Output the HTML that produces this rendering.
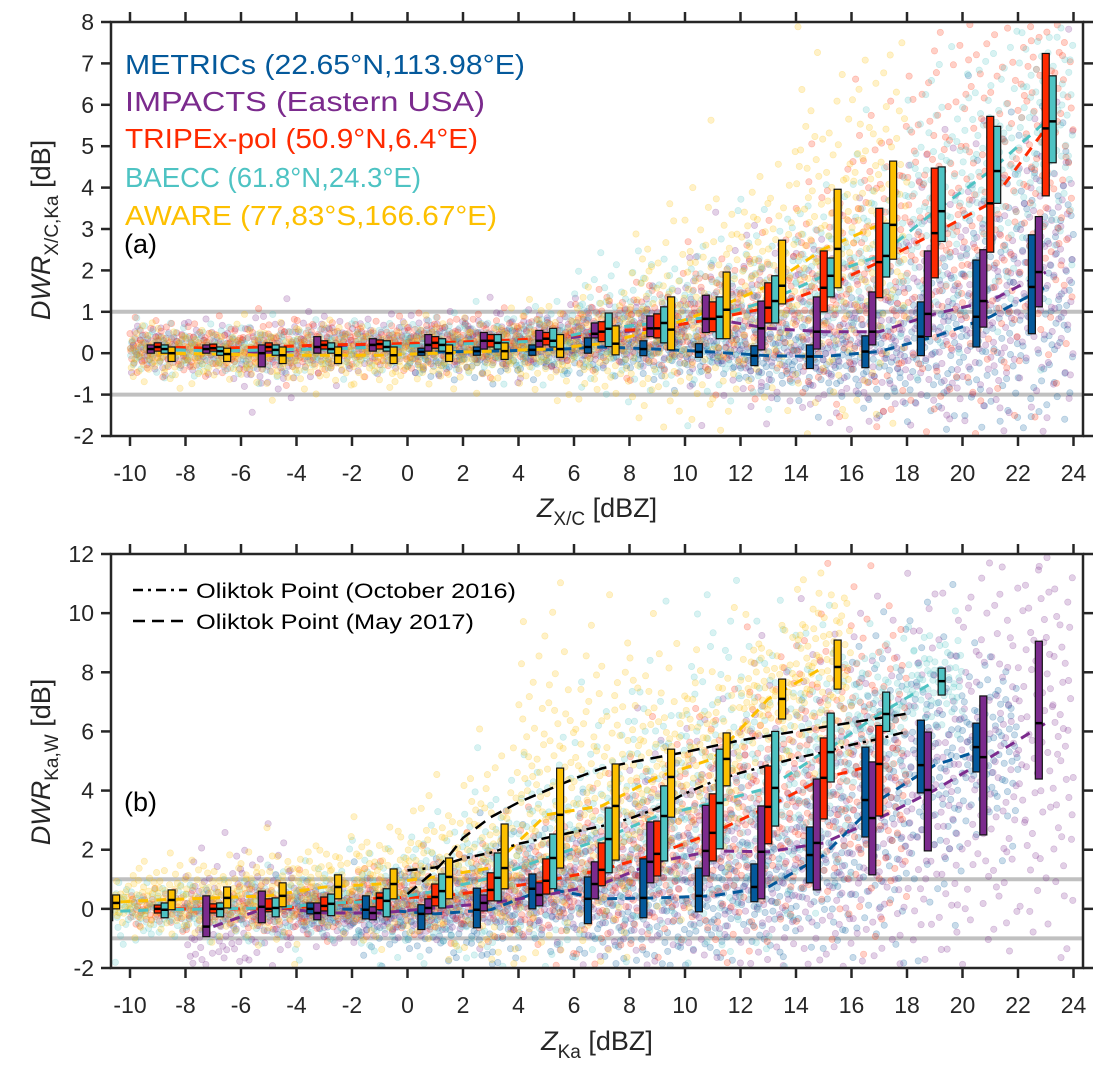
<!DOCTYPE html>
<html><head><meta charset="utf-8"><style>
html,body{margin:0;background:#fff;width:1108px;height:1077px;overflow:hidden}
svg{display:block;font-family:"Liberation Sans",Arial,sans-serif}
</style></head><body>
<div style="position:relative;width:1108px;height:1077px;overflow:hidden">
<svg id="c" width="1108" height="1077" viewBox="0 0 1108 1077" style="position:absolute;left:0;top:0">
<defs>
<clipPath id="clipA"><rect x="111" y="22" width="972" height="414"/></clipPath>
<clipPath id="clipB"><rect x="111" y="554" width="972" height="414"/></clipPath>
</defs>
<g id="gA" clip-path="url(#clipA)"></g>
<g id="gB" clip-path="url(#clipB)"></g>
<g id="axes"></g>
<g font-size="28">
<text x="125" y="74" fill="#04599b" textLength="400" lengthAdjust="spacingAndGlyphs">METRICs (22.65°N,113.98°E)</text>
<text x="125" y="111" fill="#7b2b8d" textLength="360" lengthAdjust="spacingAndGlyphs">IMPACTS (Eastern USA)</text>
<text x="125" y="148" fill="#ff2a00" textLength="353" lengthAdjust="spacingAndGlyphs">TRIPEx-pol (50.9°N,6.4°E)</text>
<text x="125" y="187" fill="#4ec3c3" textLength="296" lengthAdjust="spacingAndGlyphs">BAECC (61.8°N,24.3°E)</text>
<text x="125" y="225" fill="#fdc000" textLength="372" lengthAdjust="spacingAndGlyphs">AWARE (77,83°S,166.67°E)</text>
</g>
<text x="124" y="253" font-size="27" fill="#000">(a)</text>
<text x="124" y="811" font-size="27" fill="#000">(b)</text>
<g>
<line x1="133" x2="187" y1="590" y2="590" stroke="#000" stroke-width="2.5" stroke-dasharray="10,5,3,5"/>
<text x="196" y="598" font-size="21" fill="#000" textLength="320" lengthAdjust="spacingAndGlyphs">Oliktok Point (October 2016)</text>
<line x1="133" x2="187" y1="621" y2="621" stroke="#000" stroke-width="2.5" stroke-dasharray="12,7"/>
<text x="196" y="629" font-size="21" fill="#000" textLength="278" lengthAdjust="spacingAndGlyphs">Oliktok Point (May 2017)</text>
</g>
<text transform="translate(50,230) rotate(-90)" text-anchor="middle" font-size="27" fill="#262626"><tspan font-style="italic">DWR</tspan><tspan font-size="19" dy="8">X/C,Ka</tspan><tspan dy="-8"> [dB]</tspan></text>
<text transform="translate(50,762) rotate(-90)" text-anchor="middle" font-size="27" fill="#262626"><tspan font-style="italic">DWR</tspan><tspan font-size="19" dy="8">Ka,W</tspan><tspan dy="-8"> [dB]</tspan></text>
<text x="597" y="517" text-anchor="middle" font-size="27" fill="#262626"><tspan font-style="italic">Z</tspan><tspan font-size="19" dy="8">X/C</tspan><tspan dy="-8"> [dBZ]</tspan></text>
<text x="597" y="1050" text-anchor="middle" font-size="27" fill="#262626"><tspan font-style="italic">Z</tspan><tspan font-size="19" dy="8">Ka</tspan><tspan dy="-8"> [dBZ]</tspan></text>
</svg>
</div>
<script>
// ---- data ----
const binsA = [-9,-7,-5,-3,-1,1,3,5,7,9,11,13,15,17,19,21,23];
const binsB = [-11,-9,-7,-5,-3,-1,1,3,5,7,9,11,13,15,17,19,21,23];
const names = ["METRICs","IMPACTS","TRIPEx-pol","BAECC","AWARE"];
const colors = ["#04599b","#7b2b8d","#ff2a00","#4ec3c3","#fdc000"];
const offsets = [-0.5,-0.25,0,0.25,0.5];
const N=null;
const metricsA=[N,N,N,N,N,[-0.05,0.03,0.12],[-0.05,0.05,0.15],[-0.05,0.08,0.2],[0,0.15,0.37],[-0.06,0.1,0.3],[-0.1,0.03,0.23],[-0.3,-0.06,0.18],[-0.37,-0.08,0.2],[-0.35,0.04,0.42],[-0.06,0.4,1.24],[0.15,0.88,2.25],[0.47,1.6,2.86]];
const impactsA=[[0,0.1,0.2],[0,0.1,0.2],[-0.33,0,0.2],[0,0.15,0.4],[0.05,0.2,0.35],[0.05,0.2,0.45],[0.1,0.3,0.5],[0.15,0.3,0.55],[0.37,0.47,0.73],[0.4,0.6,0.9],[0.5,0.83,1.4],[0.08,0.6,1.26],[0.1,0.52,1.36],[0.2,0.52,1.48],[0.4,0.95,2.47],[0.63,1.26,2.5],[1.12,1.96,3.3]];
const tripexA=[[0.05,0.15,0.25],[0.05,0.12,0.22],[0.05,0.15,0.25],[0.1,0.2,0.3],[0.1,0.22,0.32],[0.12,0.25,0.4],[0.15,0.3,0.45],[0.2,0.35,0.5],[0.28,0.52,0.76],[0.37,0.6,0.95],[0.52,0.83,1.24],[0.73,1.1,1.7],[1.0,1.58,2.47],[1.34,2.2,3.5],[1.82,2.9,4.47],[2.44,3.62,5.72],[3.8,5.43,7.24]];
const baeccA=[[0,0.1,0.2],[-0.05,0.05,0.15],[-0.05,0.08,0.2],[0,0.1,0.25],[0.05,0.15,0.3],[0.05,0.2,0.35],[0.1,0.25,0.45],[0.15,0.3,0.6],[0.16,0.59,0.97],[0.25,0.73,1.12],[0.35,0.88,1.36],[0.73,1.26,1.87],[1.36,1.87,2.3],[1.84,2.35,3.14],[2.7,3.43,4.5],[3.62,4.4,5.48],[4.6,5.6,6.7]];
const awareA=[[-0.2,0,0.15],[-0.2,-0.02,0.12],[-0.25,-0.05,0.15],[-0.25,-0.05,0.15],[-0.25,-0.05,0.15],[-0.2,0,0.2],[-0.15,0.05,0.25],[-0.1,0.1,0.45],[-0.04,0.23,0.66],[0.08,0.57,1.36],[0.35,1.05,1.96],[1.19,1.63,2.73],[1.58,2.52,3.96],[2.27,3.1,4.64],N,N,N];
const metricsB=[N,N,N,N,[-0.17,0,0.2],[-0.34,-0.03,0.44],[-0.7,-0.17,0.14],[-0.64,-0.03,0.7],[0,0.68,1.18],[-0.5,0.34,1.08],[-0.3,0.37,1.69],[-0.1,0.44,1.38],[0.24,0.74,1.52],[0.88,1.82,2.77],[2.43,3.68,5.47],[3.92,4.86,6.38],[4.63,5.47,6.28],N];
const impactsB=[N,N,[-0.94,-0.6,0.44],[-0.47,0.07,0.6],[-0.37,-0.14,0.2],[-0.37,-0.14,0.07],[-0.17,0.03,0.34],[-0.07,0.2,0.47],[0.1,0.47,0.88],[0.34,0.84,1.59],[0.88,1.59,2.94],[1.11,1.96,3.5],[0.34,1.93,3.48],[0.64,2.23,4.39],[1.15,3.07,4.97],[1.96,4.02,5.98],[2.5,5.13,7.2],[4.39,6.28,9.05]];
const tripexB=[N,[-0.14,0,0.13],[-0.14,0,0.17],[-0.1,0,0.34],[-0.07,0.1,0.4],[-0.03,0.37,0.54],[0.1,0.4,0.84],[0.27,0.64,1.22],[0.5,0.95,1.69],[0.78,1.32,2.23],[1.11,1.86,2.97],[1.62,2.57,3.89],[2.2,3.45,4.83],[3.04,4.43,5.78],[3.14,4.9,6.2],N,N,N];
const baeccB=[[-0.4,-0.1,0.2],[-0.3,-0.03,0.2],[-0.27,0,0.2],[-0.27,0.03,0.37],[-0.23,0.17,0.5],[-0.27,0.27,0.68],[0.03,0.6,1.18],[0.27,1.05,1.89],[0.68,1.72,2.53],[1.22,2.36,3.41],[1.62,3.14,4.16],[2.03,3.58,5.4],[2.8,4.09,6.0],[4.29,5.3,6.62],[6.0,6.59,7.33],[7.23,7.7,8.14],N,N];
const awareB=[[0,0.2,0.47],[-0.03,0.3,0.64],[0.03,0.37,0.74],[0.07,0.44,0.88],[0.34,0.74,1.15],[0.34,0.84,1.35],[0.34,1.08,1.72],[0.68,1.38,2.87],[1.38,3.18,4.76],[1.65,3.48,4.9],[3.1,4.46,5.4],[4.16,5.07,5.95],[6.42,7.1,7.77],[7.43,8.18,9.09],N,N,N,N];
const octX=[0,1,2,3,4,5,6,7,8,9,10,11,12,13,14,15,16,17,18];
const octY=[1.3,1.4,1.7,1.9,2.2,2.4,2.6,2.8,3.05,3.4,3.9,4.3,4.6,4.85,5.1,5.3,5.55,5.75,6.0];
const mayX=[0,0.5,1,1.5,2,3,4,5,6,7,8,10,12,14,16,18];
const mayY=[0.5,0.9,1.3,1.8,2.4,3.1,3.6,4.0,4.4,4.75,4.95,5.3,5.7,6.0,6.3,6.6];
const xTicks=[-10,-8,-6,-4,-2,0,2,4,6,8,10,12,14,16,18,20,22,24];
const yTicksA=[-2,-1,0,1,2,3,4,5,6,7,8];
const yTicksB=[-2,0,2,4,6,8,10,12];

const NS="http://www.w3.org/2000/svg";
function mk(tag,attrs,parent){const e=document.createElementNS(NS,tag);for(const k in attrs)e.setAttribute(k,attrs[k]);parent.appendChild(e);return e;}
const X=v=>407.5+v*27.75;
const panels={
 A:{g:document.getElementById('gA'),top:22,bot:436,min:-2,max:8,bins:binsA,sets:[metricsA,impactsA,tripexA,baeccA,awareA]},
 B:{g:document.getElementById('gB'),top:554,bot:968,min:-2,max:12,bins:binsB,sets:[metricsB,impactsB,tripexB,baeccB,awareB]}
};
function Yf(p){return v=>p.bot-(v-p.min)/(p.max-p.min)*(p.bot-p.top);}
function halton(i,b){let f=1,r=0;while(i>0){f/=b;r+=f*(i%b);i=Math.floor(i/b);}return r;}
function invN(p){p=Math.min(Math.max(p,0.001),0.999);const t=Math.sqrt(-2*Math.log(p<0.5?p:1-p));const z=t-(2.515517+0.802853*t+0.010328*t*t)/(1+1.432788*t+0.189269*t*t+0.001308*t*t*t);return p<0.5?-z:z;}

for(const key of ['A','B']){
 const p=panels[key],Y=Yf(p),g=p.g;
 for(const v of [1,-1]){
  const l=mk('line',{x1:111,x2:1083,y1:Y(v),y2:Y(v),stroke:'#c0c0c0','stroke-width':4},g);
  
  
 }
 const sc=mk('g',{},g);
 
 
 let idx=1;
 p.sets.forEach((set,si)=>{
  set.forEach((b,bi)=>{
   if(!b)return;
   const n=Math.round(55+Math.min(b[2]-b[0],3)*18);
   const sig=Math.max((b[2]-b[0])/1.35*1.25,0.3);
   for(let k=0;k<n;k++){
    idx++;
    const xv=p.bins[bi]-1+2*halton(idx,2);
    const yv=b[1]+invN(halton(idx,3))*sig;
    if(yv<p.min+0.05||yv>p.max-0.05||xv<-10.6||xv>24.3)continue;
    mk('circle',{cx:X(xv).toFixed(1),cy:Y(yv).toFixed(1),r:3.2,fill:colors[si],'fill-opacity':0.22,stroke:colors[si],'stroke-opacity':0.25,'stroke-width':0.6},sc);
   }
  });
 });
 p.sets.forEach((set,si)=>{
  const pts=[];set.forEach((b,bi)=>{if(b)pts.push(X(p.bins[bi]).toFixed(1)+','+Y(b[1]).toFixed(1));});
  const pl=mk('polyline',{points:pts.join(' '),fill:'none',stroke:colors[si],'stroke-width':3,'stroke-dasharray':'10,8'},g);
  
  
 });
 if(key==='B'){
  const o=mk('polyline',{points:octX.map((x,i)=>X(x)+','+Y(octY[i])).join(' '),fill:'none',stroke:'#000','stroke-width':2.5,'stroke-dasharray':'10,5,3,5'},g);
  
  
  const m=mk('polyline',{points:mayX.map((x,i)=>X(x)+','+Y(mayY[i])).join(' '),fill:'none',stroke:'#000','stroke-width':2.5,'stroke-dasharray':'12,7'},g);
  
  
 }
 p.sets.forEach((set,si)=>{
  set.forEach((b,bi)=>{
   if(!b)return;
   const cx=X(p.bins[bi]+offsets[si]);
   const r=mk('rect',{x:cx-3.5,y:Y(b[2]),width:7,height:Math.max(Y(b[0])-Y(b[2]),2),fill:colors[si],stroke:'#111','stroke-width':1.2},g);
   
   
   mk('line',{x1:cx-3.5,x2:cx+3.5,y1:Y(b[1]),y2:Y(b[1]),stroke:'#000','stroke-width':2.5},g);
  });
 });
}

const ax=document.getElementById('axes');
const C='#262626';
for(const key of ['A','B']){
 const p=panels[key],Y=Yf(p);
 const fr=mk('rect',{x:111,y:p.top,width:972,height:p.bot-p.top,fill:'none',stroke:C,'stroke-width':2.5},ax);
 
 
 for(const t of xTicks){
  const x=X(t);
  mk('line',{x1:x,x2:x,y1:p.bot,y2:p.bot+10,stroke:C,'stroke-width':2.5},ax);
  mk('line',{x1:x,x2:x,y1:p.top,y2:p.top-10,stroke:C,'stroke-width':2.5},ax);
  const tx=mk('text',{x:x,y:p.bot+45,'font-size':23,fill:C,'text-anchor':'middle'},ax);
  tx.textContent=t;
  
  
 }
 for(const t of (key==='A'?yTicksA:yTicksB)){
  const y=Y(t);
  mk('line',{x1:101,x2:111,y1:y,y2:y,stroke:C,'stroke-width':2.5},ax);
  mk('line',{x1:1083,x2:1093,y1:y,y2:y,stroke:C,'stroke-width':2.5},ax);
  const ty=mk('text',{x:94,y:y+8,'font-size':23,fill:C,'text-anchor':'end'},ax);
  ty.textContent=t;
  
  
 }
}
</script>
</body></html>
